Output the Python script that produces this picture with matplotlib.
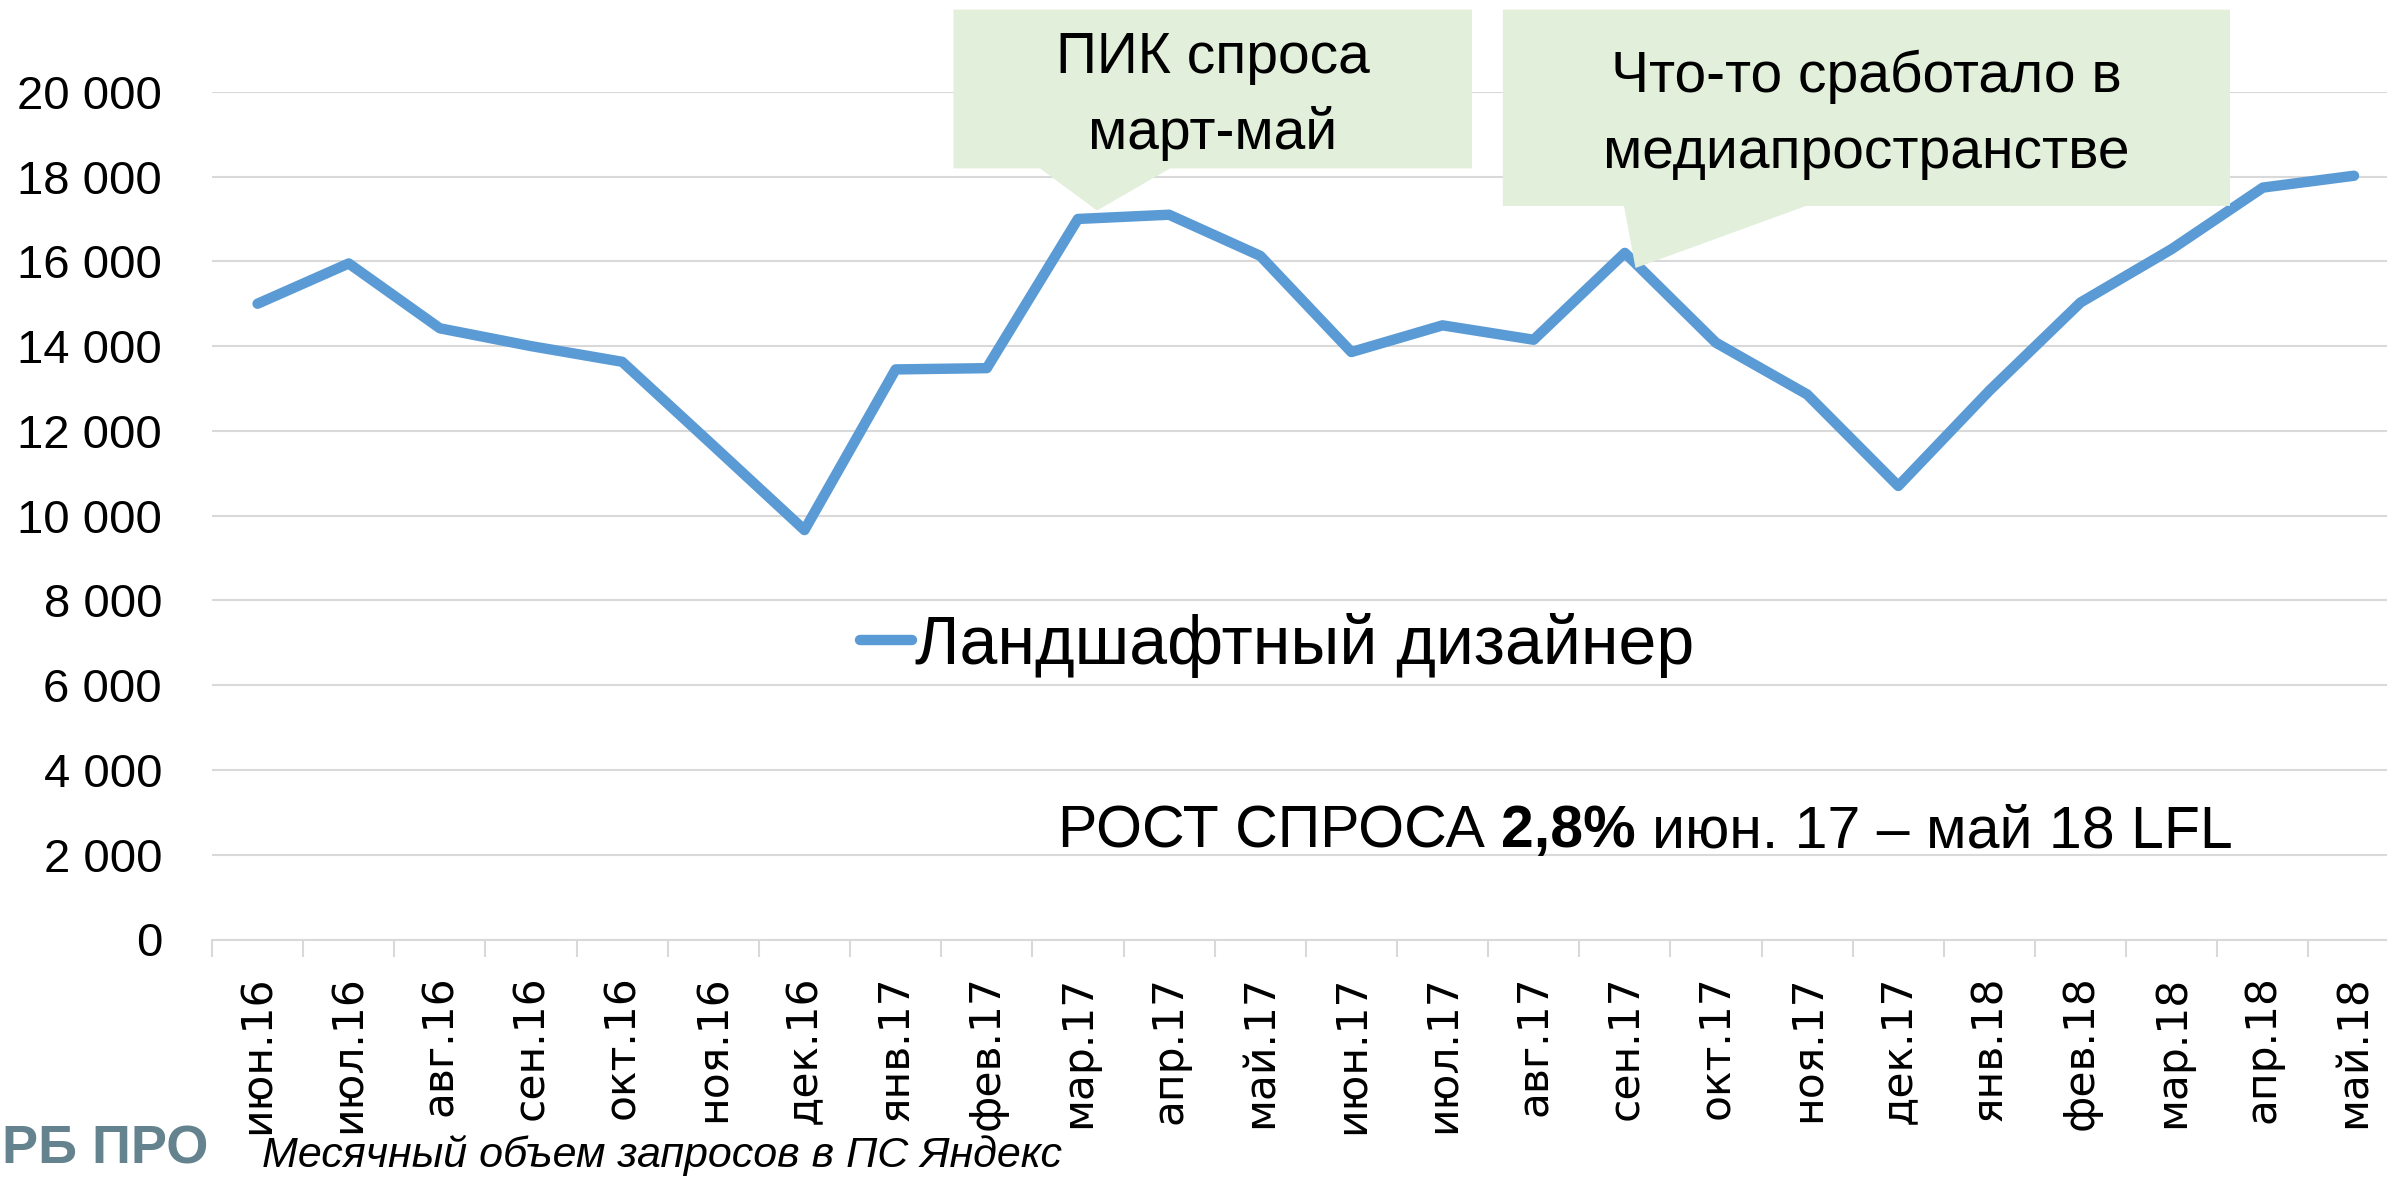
import matplotlib
matplotlib.use('Agg')
import matplotlib.pyplot as plt
import numpy as np
from matplotlib.patches import Polygon

# ---- data ----
months = ['июн.16', 'июл.16', 'авг.16', 'сен.16', 'окт.16', 'ноя.16', 'дек.16',
          'янв.17', 'фев.17', 'мар.17', 'апр.17', 'май.17', 'июн.17', 'июл.17',
          'авг.17', 'сен.17', 'окт.17', 'ноя.17', 'дек.17', 'янв.18', 'фев.18',
          'мар.18', 'апр.18', 'май.18']
values = [15000, 15950, 14420, 14000, 13630, 11650, 9660,
          13450, 13480, 17000, 17100, 16130, 13860, 14490,
          14150, 16200, 14080, 12860, 10700, 12950, 15030,
          16290, 17740, 18020]
series_name = 'Ландшафтный дизайнер'
y_ticks = [0, 2000, 4000, 6000, 8000, 10000, 12000, 14000, 16000, 18000, 20000]
y_tick_labels = ['0', '2 000', '4 000', '6 000', '8 000', '10 000', '12 000',
                 '14 000', '16 000', '18 000', '20 000']
note1 = ['ПИК спроса', 'март-май']
note2 = ['Что-то сработало в', 'медиапространстве']
growth = ['РОСТ СПРОСА', '2,8%', 'июн. 17 – май 18 LFL']
source = 'Месячный объем запросов в ПС Яндекс'
logo = 'РБ ПРО'

W, H = 2387, 1177
fig = plt.figure(figsize=(W / 100, H / 100), dpi=100)
fig.patch.set_facecolor('white')


def fx(px):
    return px / W


def fy(py):
    return 1 - py / H


FONT = 'Liberation Sans'
LINE_C = '#5B9BD5'
GRID_C = '#d9d9d9'
BOX_C = '#E2EFDA'

ax = fig.add_axes([fx(212), fy(939.5), (2399.6 - 212) / W, (939.5 - 91.8) / H])
x = np.arange(len(months))
ax.plot(x, values, color=LINE_C, lw=7.5, solid_capstyle='round',
        solid_joinstyle='round', label=series_name, zorder=3)
ax.set_xlim(-0.5, len(months) - 0.5)
ax.set_ylim(0, 20000)

ax.set_yticks(y_ticks)
ax.set_yticklabels(y_tick_labels, fontsize=34, family=FONT)
ax.tick_params(axis='y', length=0, pad=36)
ax.grid(axis='y', color=GRID_C, lw=1.5)
ax.set_axisbelow(True)

ax.set_xticks(x)
ax.set_xticklabels(months, rotation=90, fontsize=30.5, family='DejaVu Sans')
ax.tick_params(axis='x', which='major', length=0, pad=26)
ax.set_xticks(np.arange(-0.5, len(months), 1), minor=True)
ax.tick_params(axis='x', which='minor', length=12, width=1.5, color=GRID_C)

for s in ['left', 'top', 'right']:
    ax.spines[s].set_visible(False)
ax.spines['bottom'].set_color(GRID_C)
ax.spines['bottom'].set_linewidth(1.5)

leg_fs = 49
ax.legend(loc='center left', bbox_to_anchor=(fx(860), fy(645)),
          bbox_transform=fig.transFigure, frameon=False,
          prop={'family': FONT, 'size': leg_fs},
          handlelength=52 / (leg_fs * 100 / 72), handletextpad=0.05,
          borderpad=0, borderaxespad=0)

# callout boxes
box1 = [(953.5, 9.6), (1472, 9.6), (1472, 168.4), (1170, 168.4),
        (1097, 210.5), (1040, 168.4), (953.5, 168.4)]
box2 = [(1502.8, 9.6), (2230, 9.6), (2230, 205.9), (1806, 205.9),
        (1635.5, 268), (1624, 205.9), (1502.8, 205.9)]
for pts in (box1, box2):
    fig.add_artist(Polygon([(fx(a), fy(b)) for a, b in pts], closed=True,
                           transform=fig.transFigure, facecolor=BOX_C,
                           edgecolor='none', zorder=5))

fig.text(fx(1212.8), fy(72.7), note1[0], ha='center', va='baseline',
         fontsize=41, family=FONT, zorder=6)
fig.text(fx(1212.8), fy(149), note1[1], ha='center', va='baseline',
         fontsize=41, family=FONT, zorder=6)
fig.text(fx(1866), fy(91.8), note2[0], ha='center', va='baseline',
         fontsize=41, family=FONT, zorder=6)
fig.text(fx(1866), fy(168.4), note2[1], ha='center', va='baseline',
         fontsize=41, family=FONT, zorder=6)

# growth statement
g_fs = 42.5
t1 = fig.text(fx(1058), fy(847), growth[0], ha='left', va='baseline',
              fontsize=g_fs, family=FONT)
sp = 0.278 * g_fs
t2 = ax.annotate(growth[1], xy=(1, 0), xycoords=t1, xytext=(sp, 0),
                 textcoords='offset points', ha='left', va='bottom',
                 fontsize=g_fs, family=FONT, fontweight='bold',
                 annotation_clip=False)
t3 = ax.annotate(growth[2], xy=(1, 0), xycoords=t2, xytext=(sp, 0),
                 textcoords='offset points', ha='left', va='bottom',
                 fontsize=g_fs, family=FONT, annotation_clip=False)

# source note and logo
fig.text(fx(262), fy(1167), source, ha='left', va='baseline',
         fontsize=31, family=FONT, style='italic')
fig.text(fx(2), fy(1124), logo, ha='left', va='top', fontsize=39,
         family=FONT, fontweight='bold', color='#64838F')

fig.savefig('out.png', dpi=100, facecolor='white')
